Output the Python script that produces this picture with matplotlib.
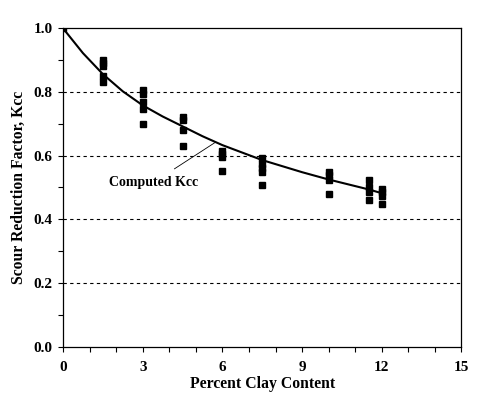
import matplotlib
matplotlib.use("Agg")
import matplotlib.pyplot as plt
from matplotlib.ticker import MultipleLocator, FormatStrFormatter

# measured data (clay content %, Kcc)
meas_x = [0,
          1.5, 1.5, 1.5, 1.5, 1.5,
          3, 3, 3, 3, 3,
          4.5, 4.5, 4.5, 4.5,
          6, 6, 6, 6,
          7.5, 7.5, 7.5, 7.5, 7.5,
          10, 10, 10, 10,
          11.5, 11.5, 11.5, 11.5,
          12, 12, 12, 12]
meas_y = [1.0,
          0.90, 0.89, 0.88, 0.85, 0.83,
          0.805, 0.795, 0.768, 0.745, 0.70,
          0.721, 0.711, 0.681, 0.629,
          0.615, 0.604, 0.595, 0.553,
          0.592, 0.574, 0.562, 0.548, 0.509,
          0.550, 0.538, 0.524, 0.478,
          0.522, 0.501, 0.487, 0.462,
          0.496, 0.485, 0.473, 0.449]

# computed curve
curve_x = [0, 0.75, 1.5, 2.25, 3, 3.75, 4.5, 5.25, 6, 7.5, 9, 10, 11.5, 12]
curve_y = [1.0, 0.922, 0.856, 0.802, 0.758, 0.723, 0.692, 0.661, 0.633, 0.586, 0.548, 0.525, 0.494, 0.482]

xticks = [0, 3, 6, 9, 12, 15]
yticks = [0.0, 0.2, 0.4, 0.6, 0.8, 1.0]

serif = ['Liberation Serif', 'DejaVu Serif']
font = {'family': serif, 'weight': 'bold', 'size': 11.3}

fig = plt.figure(figsize=(4.93, 4.05), dpi=100)
ax = fig.add_axes([0.1278, 0.1440, 0.8083, 0.7862])

for yv in yticks[1:-1]:
    ax.axhline(yv, color='black', linestyle=(0, (3, 3)), linewidth=0.8, zorder=1)

ax.plot(curve_x, curve_y, color='black', linewidth=1.5, zorder=3)
ax.plot(meas_x, meas_y, linestyle='none', marker='s', markersize=4.3,
        color='black', zorder=4)

ax.annotate('Computed Kcc', xy=(5.72, 0.641), xytext=(3.39, 0.515),
            ha='center', va='center', family=serif, weight='bold', size=10,
            arrowprops=dict(arrowstyle='-', color='black', linewidth=0.6,
                            shrinkA=6, shrinkB=0))

ax.set_xlim(0, 15)
ax.set_ylim(0, 1.0)
ax.set_xticks(xticks)
ax.set_yticks(yticks)
ax.xaxis.set_minor_locator(MultipleLocator(1))
ax.yaxis.set_minor_locator(MultipleLocator(0.1))
ax.yaxis.set_major_formatter(FormatStrFormatter('%.1f'))
ax.tick_params(which='both', direction='out', length=3.5, width=0.8, color='black')
ax.tick_params(axis='x', which='major', pad=7)
ax.tick_params(axis='y', which='major', pad=4)
for lab in ax.get_xticklabels() + ax.get_yticklabels():
    lab.set_fontfamily(serif)
    lab.set_fontweight('bold')
    lab.set_fontsize(11)
for sp in ax.spines.values():
    sp.set_linewidth(0.9)
    sp.set_color('black')

ax.set_xlabel('Percent Clay Content', fontdict=font, labelpad=1)
ax.set_ylabel('Scour Reduction Factor, Kcc', fontdict=font, labelpad=5)

fig.savefig('out.png', dpi=100)
